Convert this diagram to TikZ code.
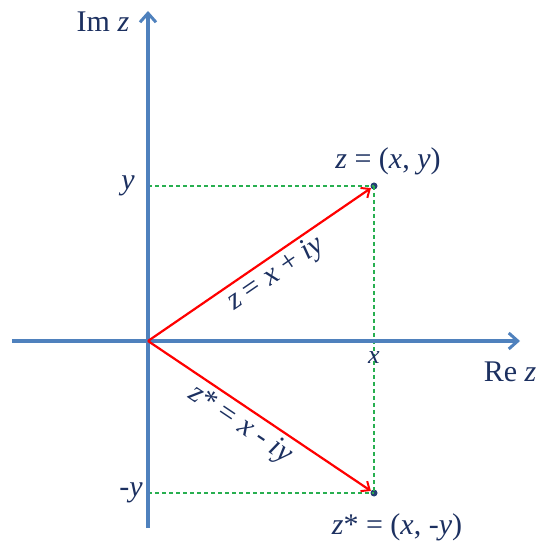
\documentclass[tikz,border=0pt]{standalone}
\usepackage{fontspec}
\setmainfont{Liberation Serif}
\usetikzlibrary{arrows.meta}
\definecolor{axisblue}{RGB}{79,129,189}
\definecolor{inkblue}{RGB}{28,48,96}
\definecolor{guidegreen}{RGB}{40,175,80}
\begin{document}
\begin{tikzpicture}[x=1pt,y=1pt,
  axis/.style={axisblue,line width=3.5pt,-{Straight Barb[length=9pt,width=16pt,line width=3pt]}},
  vec/.style={red,line width=2.2pt,-{Straight Barb[length=7pt,width=12pt,line width=2pt]}},
  guide/.style={guidegreen,line width=1.4pt,dash pattern=on 4pt off 3pt},
  lbl/.style={inkblue,font=\fontsize{30}{34}\selectfont,inner sep=1pt},
  dot/.style={circle,fill=inkblue!80!axisblue,inner sep=0pt,minimum size=7pt}]
\useasboundingbox (-148,-207) rectangle (400,341);
% points
\coordinate (o) at (0,0);
\coordinate (yt) at (0,155);
\coordinate (ymt) at (0,-152);
\node[dot] (z) at (226,155) {};
\node[dot] (zc) at (226,-152) {};
\coordinate (xl) at (-136,0);
\coordinate (xr) at (372,0);
\coordinate (yb) at (0,-187);
\coordinate (ytop) at (0,330);
% guides
\draw[guide] (yt) -- (z.center);
\draw[guide] (z.center) -- (zc.center);
\draw[guide] (ymt) -- (zc.center);
% axes
\draw[axis] (xl) -- (xr);
\draw[axis] (yb) -- (ytop);
% vectors
\draw[vec] (o) -- (z) node[lbl,pos=.53,sloped,below=2pt] {\textit{z} = \textit{x} + \textit{iy}};
\draw[vec] (o) -- (zc) node[lbl,pos=.46,sloped,below=3pt] {\textit{z}* = \textit{x} - \textit{iy}};
% labels
\node[lbl] (im) at (-45,319) {Im \textit{z}};
\node[lbl] (re) at (362,-31) {Re \textit{z}};
\node[lbl] (ylab) at (-20,155) {\textit{y}};
\node[lbl] (mylab) at (-17,-152) {-\textit{y}};
\node[lbl,font=\fontsize{26}{30}\selectfont] (xlab) at (226,-17) {\textit{x}};
\node[lbl] (zlab) at (240,180) {\textit{z} = (\textit{x}, \textit{y})};
\node[lbl] (zclab) at (249,-186) {\textit{z}* = (\textit{x}, -\textit{y})};
\end{tikzpicture}
\end{document}
